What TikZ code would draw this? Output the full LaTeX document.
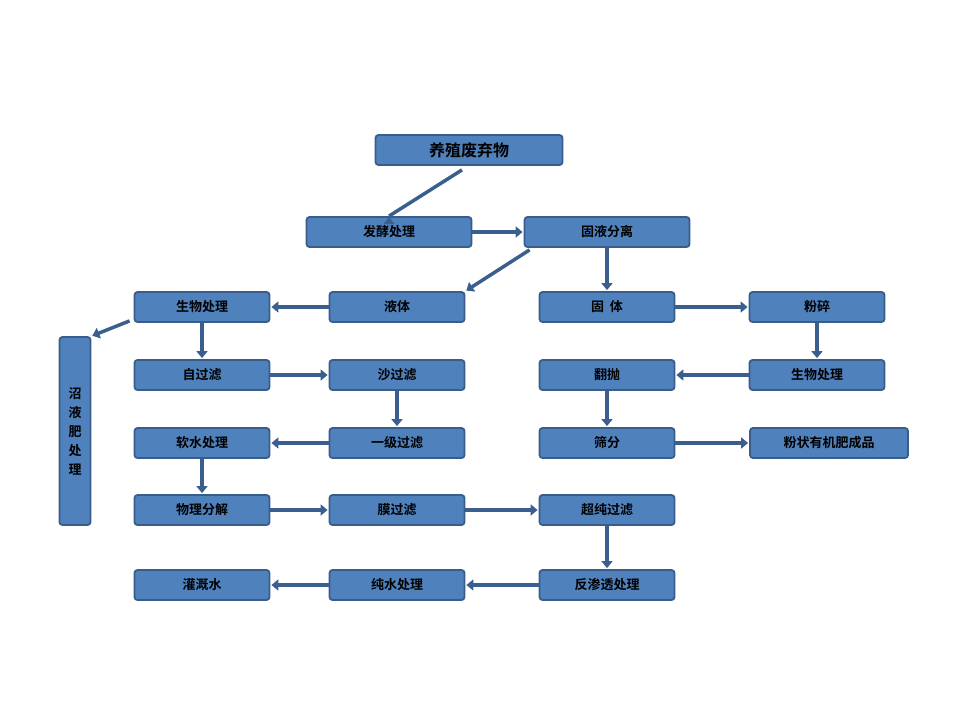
\documentclass[tikz,border=0pt]{standalone}
\usepackage{fontspec}
\newfontfamily\cjk{Noto Sans CJK SC}[BoldFont={Noto Sans CJK SC Bold}]
\usetikzlibrary{arrows.meta}
\definecolor{boxfill}{HTML}{4F81BD}
\definecolor{boxline}{HTML}{385D8A}
\definecolor{arrowc}{HTML}{3A5F8F}
\tikzset{
  stepbox/.style={draw=boxline, line width=1.8pt, fill=boxfill, rounded corners=3pt,
    minimum width=135pt, minimum height=30pt, inner sep=0pt, font=\cjk\bfseries\fontsize{13}{13}\selectfont},
  flow/.style={draw=arrowc, line width=3.5pt, -{Triangle[length=7pt,width=11pt]}, shorten >=1pt}
}
\begin{document}
\begin{tikzpicture}[x=1pt,y=-1pt]
\useasboundingbox (0,0) rectangle (960,720);
% top
\node[stepbox, minimum width=187pt, font=\cjk\bfseries\fontsize{16}{16}\selectfont] (waste) at (469,150) {养殖废弃物};
\node[stepbox, minimum width=165pt] (ferm) at (389,232) {发酵处理};
\node[stepbox, minimum width=165pt] (sep) at (607,232) {固液分离};
% row 1
\node[stepbox] (bioL) at (202,307) {生物处理};
\node[stepbox] (liquid) at (397,307) {液体};
\node[stepbox] (solid) at (607,307) {固\ \ 体};
\node[stepbox] (crush) at (817,307) {粉碎};
% row 2
\node[stepbox] (self) at (202,375) {自过滤};
\node[stepbox] (sand) at (397,375) {沙过滤};
\node[stepbox] (turn) at (607,375) {翻抛};
\node[stepbox] (bioR) at (817,375) {生物处理};
% row 3
\node[stepbox] (soft) at (202,443) {软水处理};
\node[stepbox] (first) at (397,443) {一级过滤};
\node[stepbox] (sieve) at (607,443) {筛分};
\node[stepbox, minimum width=158pt] (product) at (829,443) {粉状有机肥成品};
% row 4
\node[stepbox] (phys) at (202,510) {物理分解};
\node[stepbox] (membr) at (397,510) {膜过滤};
\node[stepbox] (ultra) at (607,510) {超纯过滤};
% row 5
\node[stepbox] (irrig) at (202,585) {灌溉水};
\node[stepbox] (pure) at (397,585) {纯水处理};
\node[stepbox] (ro) at (607,585) {反渗透处理};
% side
\node[stepbox, minimum width=31pt, minimum height=188pt, align=center] (biogas) at (75,431) {沼\\[6pt]液\\[6pt]肥\\[6pt]处\\[6pt]理};
% arrows
\draw[flow] (waste.south) ++(-7,4) -- (ferm.north) ++(0,0);
\draw[flow] (ferm) -- (sep);
\draw[flow] (sep.south west) ++(6,2) -- (liquid.north east);
\draw[flow] (sep) -- (solid);
\draw[flow] (liquid) -- (bioL);
\draw[flow] (solid) -- (crush);
\draw[flow] (crush) -- (bioR);
\draw[flow] (bioR) -- (turn);
\draw[flow] (turn) -- (sieve);
\draw[flow] (sieve) -- (product);
\draw[flow] (bioL.south west) ++(-4,-2) -- (biogas.north east);
\draw[flow] (bioL) -- (self);
\draw[flow] (self) -- (sand);
\draw[flow] (sand) -- (first);
\draw[flow] (first) -- (soft);
\draw[flow] (soft) -- (phys);
\draw[flow] (phys) -- (membr);
\draw[flow] (membr) -- (ultra);
\draw[flow] (ultra) -- (ro);
\draw[flow] (ro) -- (pure);
\draw[flow] (pure) -- (irrig);
\end{tikzpicture}
\end{document}
